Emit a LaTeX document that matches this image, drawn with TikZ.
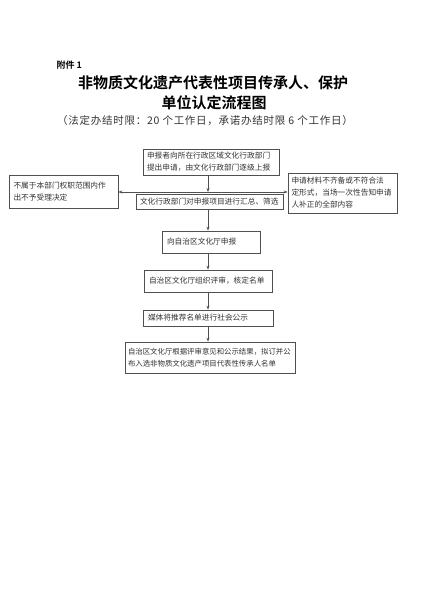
\documentclass[tikz,border=0pt]{standalone}
\usepackage{fontspec}
\newfontfamily\cjk{Noto Sans CJK SC}
\newfontfamily\cjkb{Noto Sans CJK SC Bold}
\newfontfamily\cjkwide[LetterSpace=7]{Noto Sans CJK SC}
\usetikzlibrary{arrows.meta}
\definecolor{linegray}{HTML}{505050}
\definecolor{txtgray}{HTML}{333333}
\tikzset{
  box/.style={draw=linegray, line width=0.7pt, rectangle, inner xsep=5pt, inner ysep=0pt,
    font=\cjk\fontsize{7.7}{12}\selectfont, text=txtgray, align=left, anchor=center},
  arr/.style={draw=linegray, line width=0.7pt, -{Stealth[length=4pt,width=3pt]}},
}
\begin{document}
\begin{tikzpicture}[x=1pt,y=-1pt]
\useasboundingbox[fill=white] (0,0) rectangle (424,600);
% titles
\node[anchor=west, font=\cjkb\fontsize{9}{10}\selectfont] (fj) at (53,65) {附件 1};
\node[font=\cjkb\fontsize{15}{17}\selectfont] (t1) at (213,83) {非物质文化遗产代表性项目传承人、保护};
\node[font=\cjkb\fontsize{15}{17}\selectfont] (t2) at (214,103) {单位认定流程图};
\node[font=\cjkwide\fontsize{10.5}{12}\selectfont, text=txtgray] (t3) at (205,121) {（法定办结时限：20 个工作日，承诺办结时限 6 个工作日）};
% boxes
\node[box, minimum width=136pt, minimum height=26pt, text width=128pt, inner xsep=4pt] (top) at (211,162)
  {申报者向所在行政区域文化行政部门\\提出申请，由文化行政部门逐级上报};
\node[box, minimum width=147pt, minimum height=15pt, text width=139pt, inner xsep=4pt] (mid) at (209.5,201.5)
  {文化行政部门对申报项目进行汇总、筛选};
\node[box, minimum width=109pt, minimum height=33pt, text width=100pt, inner xsep=4.5pt] (left) at (63.5,191.5)
  {不属于本部门权职范围内作\\出不予受理决定};
\node[box, minimum width=109pt, minimum height=40pt, text width=102pt, inner xsep=3.5pt] (right) at (342.5,193)
  {申请材料不齐备或不符合法\\定形式，当场一次性告知申请\\人补正的全部内容};
\node[box, minimum width=98pt, minimum height=22pt, text width=88pt] (b5) at (211,242)
  {向自治区文化厅申报};
\node[box, minimum width=128pt, minimum height=22pt, text width=118pt] (b6) at (208,281)
  {自治区文化厅组织评审，核定名单};
\node[box, minimum width=130pt, minimum height=16pt, text width=120pt] (b7) at (208,318)
  {媒体将推荐名单进行社会公示};
\node[box, minimum width=170pt, minimum height=31pt, text width=164pt, inner xsep=3pt,
  font=\cjk\fontsize{7.4}{12}\selectfont] (b8) at (210,357.5)
  {自治区文化厅根据评审意见和公示结果，拟订并公\\布入选非物质文化遗产项目代表性传承人名单};
% connectors
\coordinate (j) at (208,192);
\draw[arr] (top.south -| j) -- (j);
\draw[arr] (j) -- (left.east |- j);
\draw[arr] (j) -- (right.west |- j);
\draw[arr] (mid.south -| j) -- (b5.north -| j);
\draw[arr] (b5.south -| j) -- (b6.north -| j);
\draw[arr] (b6.south -| j) -- (b7.north -| j);
\draw[arr] (b7.south -| j) -- (b8.north -| j);
\end{tikzpicture}
\end{document}
